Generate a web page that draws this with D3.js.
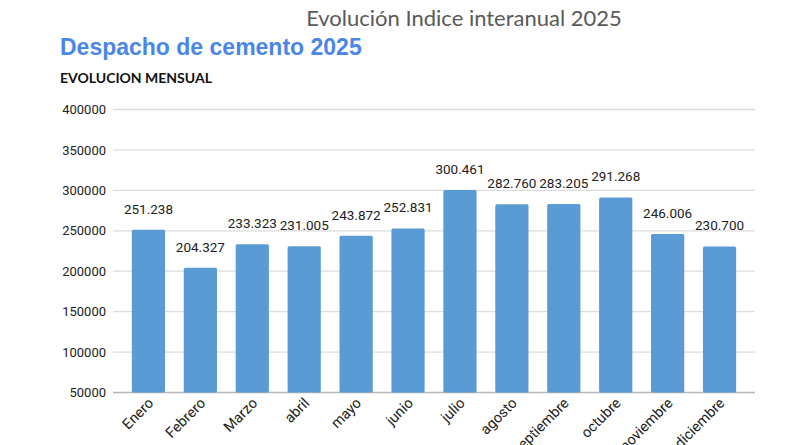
<!DOCTYPE html>
<html>
<head>
<meta charset="utf-8">
<script src="https://cdn.jsdelivr.net/npm/d3@7"></script>
<style>
  body { margin: 0; background: #fff; overflow: hidden; }
</style>
</head>
<body>
<script>
// Monthly cement dispatch 2025
const months = ["Enero", "Febrero", "Marzo", "abril", "mayo", "junio", "julio",
                "agosto", "septiembre", "octubre", "noviembre", "diciembre"];
const dispatch = [251238, 204327, 233323, 231005, 243872, 252831, 300461,
                  282760, 283205, 291268, 246006, 230700];
const valueLabels = ["251.238", "204.327", "233.323", "231.005", "243.872", "252.831",
                     "300.461", "282.760", "283.205", "291.268", "246.006", "230.700"];
const yTicks = [50000, 100000, 150000, 200000, 250000, 300000, 350000, 400000];

const width = 800, height = 445;

const svg = d3.select("body")
    .append("svg")
    .attr("width", width)
    .attr("height", height);

// Titles
svg.append("text")
    .attr("x", 464).attr("y", 26)
    .attr("text-anchor", "middle")
    .attr("font-family", "Lato, 'Open Sans', sans-serif")
    .attr("font-size", 22)
    .attr("fill", "#595959")
    .text("Evolución Indice interanual 2025");

svg.append("text")
    .attr("x", 60).attr("y", 55)
    .attr("font-family", "'Liberation Sans', Arial, sans-serif")
    .attr("font-weight", "bold")
    .attr("font-size", 23)
    .attr("fill", "#4a86e8")
    .text("Despacho de cemento 2025");

svg.append("text")
    .attr("x", 60).attr("y", 83)
    .attr("font-family", "Lato, 'Open Sans', sans-serif")
    .attr("font-weight", "bold")
    .attr("font-size", 14)
    .attr("fill", "#111")
    .text("EVOLUCION MENSUAL");

// Scales
const x = d3.scaleBand()
    .domain(months)
    .range([122.5, 745.5])
    .paddingInner(0.36)
    .paddingOuter(0.18);

const y = d3.scaleLinear()
    .domain([50000, 400000])
    .range([392.5, 109.5]);

// Gridlines
svg.append("g")
    .selectAll("line")
    .data(yTicks)
    .enter()
    .append("line")
    .attr("x1", 113).attr("x2", 755)
    .attr("y1", d => y(d)).attr("y2", d => y(d))
    .attr("stroke", d => d === 50000 ? "#b7b7b7" : "#dcdcdc")
    .attr("stroke-width", 1.3);

// Y axis labels
const yAxis = svg.append("g")
    .attr("transform", "translate(106,0)")
    .call(d3.axisLeft(y).tickValues(yTicks).tickSize(0).tickPadding(0).tickFormat(d3.format("d")));
yAxis.select(".domain").remove();
yAxis.selectAll("text")
    .attr("font-family", "Roboto, 'Liberation Sans', sans-serif")
    .attr("font-size", 13)
    .attr("fill", "#222");

// Bars
svg.selectAll("rect.bar")
    .data(months)
    .enter()
    .append("rect")
    .attr("class", "bar")
    .attr("x", d => x(d))
    .attr("y", (d, i) => y(dispatch[i]))
    .attr("width", x.bandwidth())
    .attr("height", (d, i) => y(50000) - y(dispatch[i]))
    .attr("rx", 1.5)
    .attr("fill", "#5b9bd5");

// Value labels
svg.selectAll("text.val")
    .data(months)
    .enter()
    .append("text")
    .attr("class", "val")
    .attr("x", d => x(d) + x.bandwidth() / 2)
    .attr("y", (d, i) => y(dispatch[i]) - 16)
    .attr("text-anchor", "middle")
    .attr("font-family", "Roboto, 'Liberation Sans', sans-serif")
    .attr("font-size", 13.5)
    .attr("fill", "#222")
    .text((d, i) => valueLabels[i]);

// X axis labels, rotated
svg.selectAll("text.month")
    .data(months)
    .enter()
    .append("text")
    .attr("class", "month")
    .attr("transform", d => `translate(${x(d) + x.bandwidth() / 2 + 6},${404}) rotate(-45)`)
    .attr("text-anchor", "end")
    .attr("font-family", "Roboto, 'Liberation Sans', sans-serif")
    .attr("font-size", 14.5)
    .attr("fill", "#222")
    .text(d => d);
</script>
</body>
</html>
